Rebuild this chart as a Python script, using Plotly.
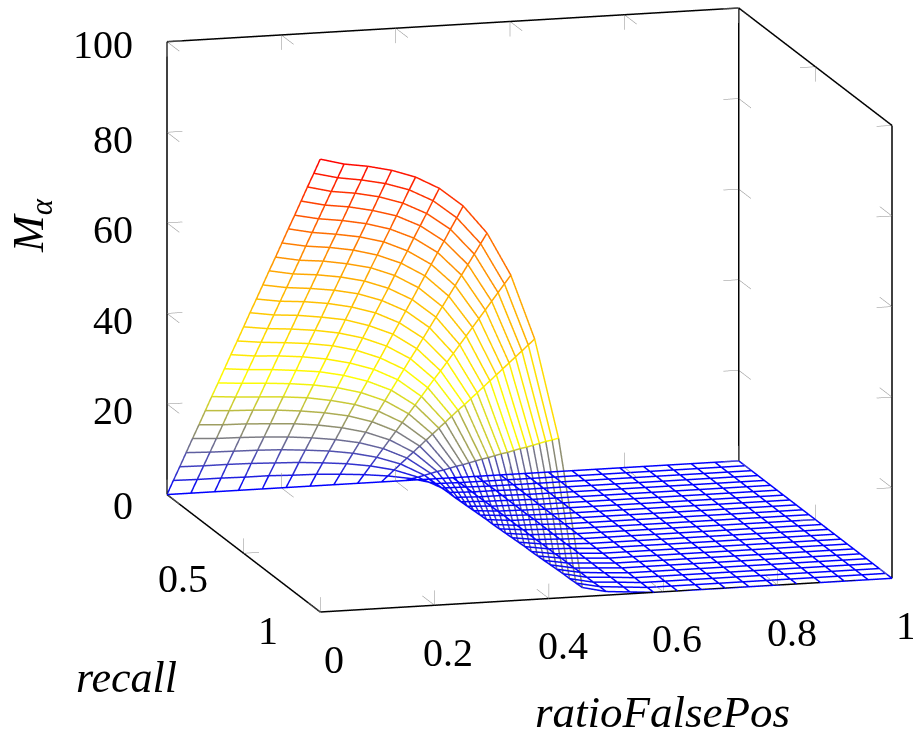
import plotly.graph_objects as go

ratio_false_pos = [0, 0.0417, 0.0833, 0.125, 0.1667, 0.2083, 0.25, 0.2917, 0.3333, 0.375, 0.4167, 0.4583, 0.5,
                   0.5417, 0.5833, 0.625, 0.6667, 0.7083, 0.75, 0.7917, 0.8333, 0.875, 0.9167, 0.9583, 1]
recall = [0, 0.0417, 0.0833, 0.125, 0.1667, 0.2083, 0.25, 0.2917, 0.3333, 0.375, 0.4167, 0.4583, 0.5,
          0.5417, 0.5833, 0.625, 0.6667, 0.7083, 0.75, 0.7917, 0.8333, 0.875, 0.9167, 0.9583, 1]
Z = [0]*11
M_alpha = [
 [0,0,0,0,0,0,0,0,0,0,0,0,0,0]+Z,
 [4.2,4.1,4.1,4.0,4.0,3.8,3.7,3.4,3.0,2.4,1.5,0.1,0,0]+Z,
 [8.3,8.2,8.2,8.1,7.9,7.7,7.3,6.8,6.0,4.8,2.9,0.2,0.1,0]+Z,
 [12.5,12.3,12.2,12.1,11.9,11.5,11.0,10.2,9.0,7.2,4.4,0.3,0.1,0.1]+Z,
 [16.7,16.4,16.3,16.1,15.8,15.3,14.6,13.6,12.0,9.6,5.9,0.3,0.1,0.1]+Z,
 [20.8,20.5,20.4,20.1,19.8,19.2,18.3,17.0,15.0,12.0,7.4,0.4,0.2,0.1]+Z,
 [25.0,24.7,24.5,24.2,23.7,23.0,22.0,20.4,18.0,14.4,8.8,0.5,0.2,0.1]+Z,
 [29.2,28.8,28.5,28.2,27.7,26.8,25.6,23.8,21.0,16.8,10.3,0.6,0.2,0.1]+Z,
 [33.3,32.9,32.6,32.2,31.6,30.7,29.3,27.2,24.0,19.2,11.8,0.7,0.3,0.1]+Z,
 [37.5,37.0,36.7,36.2,35.6,34.5,32.9,30.6,27.0,21.6,13.2,0.8,0.3,0.2]+Z,
 [41.7,41.1,40.8,40.3,39.5,38.3,36.6,34.0,30.0,24.0,14.7,0.8,0.3,0.2]+Z,
 [45.8,45.2,44.8,44.3,43.5,42.2,40.2,37.4,33.0,26.4,16.2,0.9,0.4,0.2]+Z,
 [50.0,49.3,48.9,48.3,47.4,46.0,43.9,40.8,36.0,28.8,17.7,1.0,0.4,0.2]+Z,
 [54.2,53.4,53.0,52.3,51.4,49.8,47.6,44.1,38.9,31.1,19.1,1.1,0.4,0.2]+Z,
 [58.3,57.5,57.1,56.4,55.3,53.7,51.2,47.5,41.9,33.5,20.6,1.2,0.5,0.2]+Z,
 [62.5,61.6,61.1,60.4,59.3,57.5,54.9,50.9,44.9,35.9,22.1,1.3,0.5,0.3]+Z,
 [66.7,65.7,65.2,64.4,63.2,61.3,58.5,54.3,47.9,38.3,23.5,1.3,0.5,0.3]+Z,
 [70.8,69.8,69.3,68.4,67.2,65.2,62.2,57.7,50.9,40.7,25.0,1.4,0.6,0.3]+Z,
 [75.0,74.0,73.4,72.5,71.1,69.0,65.9,61.1,53.9,43.1,26.5,1.5,0.6,0.3]+Z,
 [79.2,78.1,77.4,76.5,75.1,72.8,69.5,64.5,56.9,45.5,27.9,1.6,0.6,0.3]+Z,
 [83.3,82.2,81.5,80.5,79.0,76.7,73.2,67.9,59.9,47.9,29.4,1.7,0.7,0.3]+Z,
 [87.5,86.3,85.6,84.5,83.0,80.5,76.8,71.3,62.9,50.3,30.9,1.8,0.7,0.4]+Z,
 [91.7,90.4,89.7,88.6,86.9,84.3,80.5,74.7,65.9,52.7,32.4,1.8,0.7,0.4]+Z,
 [95.8,94.5,93.7,92.6,90.9,88.2,84.1,78.1,68.9,55.1,33.8,1.9,0.8,0.4]+Z,
 [100,98.6,97.8,96.6,94.8,92.0,87.8,81.5,71.9,57.5,35.3,2.0,0.8,0.4]+Z,
]
x_ticks = [0, 0.2, 0.4, 0.6, 0.8, 1]
x_tick_text = ["0", "0.2", "0.4", "0.6", "0.8", "1"]
y_ticks = [0, 0.5, 1]
y_tick_text = ["0", "0.5", "1"]
z_ticks = [0, 20, 40, 60, 80, 100]
z_tick_text = ["0", "20", "40", "60", "80", "100"]
hot = [[0, "rgb(0,0,255)"], [1/3, "rgb(255,255,0)"], [2/3, "rgb(255,165,0)"], [1, "rgb(255,0,0)"]]

xs, ys, zs, cs = [], [], [], []
def seg(x0, y0, z0, x1, y1, z1):
    c = (z0 + z1) / 2
    xs.extend([x0, x1, None]); ys.extend([y0, y1, None]); zs.extend([z0, z1, None]); cs.extend([c, c, c])
nx, ny = len(ratio_false_pos), len(recall)
for j in range(ny):
    for i in range(nx):
        if i + 1 < nx:
            seg(ratio_false_pos[i], recall[j], M_alpha[j][i], ratio_false_pos[i+1], recall[j], M_alpha[j][i+1])
        if j + 1 < ny:
            seg(ratio_false_pos[i], recall[j], M_alpha[j][i], ratio_false_pos[i], recall[j+1], M_alpha[j+1][i])

X0, X1, Y0, Y1, Z0, Z1 = 0, 1, 0, 1, 0, 100
bx, by, bz = [], [], []
edges = [((X0,Y0,Z0),(X0,Y0,Z1)), ((X0,Y0,Z1),(X1,Y0,Z1)), ((X1,Y0,Z1),(X1,Y0,Z0)), ((X1,Y0,Z1),(X1,Y1,Z1)),
         ((X1,Y1,Z1),(X1,Y1,Z0)), ((X0,Y0,Z0),(X0,Y1,Z0)), ((X0,Y1,Z0),(X1,Y1,Z0))]
for a, b in edges:
    bx.extend([a[0], b[0], None]); by.extend([a[1], b[1], None]); bz.extend([a[2], b[2], None])

tx, ty, tz = [], [], []
LX, LY, LZ = 0.027, 0.08, 3.3
def tick(p, d):
    tx.extend([p[0], p[0]+d[0], None]); ty.extend([p[1], p[1]+d[1], None]); tz.extend([p[2], p[2]+d[2], None])
for v in z_ticks:
    tick((X0,Y0,v), (LX,0,0)); tick((X0,Y0,v), (0,LY,0))
    tick((X1,Y0,v), (-LX,0,0)); tick((X1,Y0,v), (0,LY,0))
    tick((X1,Y1,v), (-LX,0,0)); tick((X1,Y1,v), (0,-LY,0))
for v in x_ticks:
    tick((v,Y0,Z0), (0,0,LZ)); tick((v,Y0,Z0), (0,LY,0))
    tick((v,Y1,Z0), (0,0,LZ)); tick((v,Y1,Z0), (0,-LY,0))
    tick((v,Y0,Z1), (0,0,-LZ)); tick((v,Y0,Z1), (0,LY,0))
for v in y_ticks:
    tick((X0,v,Z0), (0,0,LZ)); tick((X0,v,Z0), (LX,0,0))
    tick((X1,v,Z1), (0,0,-LZ)); tick((X1,v,Z1), (-LX,0,0))
    tick((X1,v,Z0), (0,0,LZ)); tick((X1,v,Z0), (-LX,0,0))

fig = go.Figure()
fig.add_trace(go.Scatter3d(x=tx, y=ty, z=tz, mode="lines", line=dict(color="rgb(140,140,140)", width=1), hoverinfo="skip"))
fig.add_trace(go.Scatter3d(x=bx, y=by, z=bz, mode="lines", line=dict(color="black", width=3), hoverinfo="skip"))
fig.add_trace(go.Scatter3d(x=xs, y=ys, z=zs, mode="lines",
                           line=dict(color=cs, colorscale=hot, cmin=0, cmax=100, width=3), hoverinfo="skip"))

FS = 40
font = dict(family="Liberation Serif", size=FS, color="black")
ann = []
z_label_dy = [-11, -6, -7, -7, -7, -3]
for v, t, dy in zip(z_ticks, z_tick_text, z_label_dy):
    ann.append(dict(x=X0, y=Y0, z=v, text=t, showarrow=False, xanchor="right", yanchor="middle", xshift=-32, yshift=dy, font=font))
for v, t in zip(x_ticks, x_tick_text):
    ann.append(dict(x=v, y=Y1, z=Z0, text=t, showarrow=False, xanchor="center", yanchor="middle", xshift=14, yshift=-47, font=font))
for v, t, dx, dy in zip(y_ticks[1:], y_tick_text[1:], [-60, -52], [-25, -18]):
    ann.append(dict(x=X0, y=v, z=Z0, text=t, showarrow=False, xanchor="center", yanchor="middle", xshift=dx, yshift=dy, font=font))
axis = dict(showgrid=False, showline=False, zeroline=False, showticklabels=False, showbackground=False,
            showspikes=False, ticks="", title=dict(text=""))
E = 2.0
fig.update_layout(
    width=913, height=731, margin=dict(l=0, r=0, t=0, b=0), paper_bgcolor="white", showlegend=False,
    scene=dict(
        domain=dict(x=[0.1595, 1], y=[0.1518, 1]),
        xaxis=dict(range=[X0, X1], **axis), yaxis=dict(range=[Y0, Y1], **axis), zaxis=dict(range=[Z0, Z1], **axis),
        aspectmode="manual", aspectratio=dict(x=1.914, y=1.85, z=1.495),
        camera=dict(projection=dict(type="orthographic"), up=dict(x=0, y=0, z=1), center=dict(x=0, y=0, z=0),
                    eye=dict(x=0.2611*E, y=-0.9416*E, z=-0.2125*E)),
        annotations=ann,
    ),
    annotations=[
        dict(xref="paper", yref="paper", x=126/913, y=1-677/731, xanchor="center", yanchor="middle", text="<i>recall</i>",
             showarrow=False, font=dict(family="Liberation Serif", size=44, color="black")),
        dict(xref="paper", yref="paper", x=662/913, y=1-712/731, xanchor="center", yanchor="middle", text="<i>ratioFalsePos</i>",
             showarrow=False, font=dict(family="Liberation Serif", size=45, color="black")),
        dict(xref="paper", yref="paper", x=31/913, y=1-226/731, xanchor="center", yanchor="middle", text="<i>M</i><sub><i>α</i></sub>",
             textangle=-90, showarrow=False, font=dict(family="Liberation Serif", size=44, color="black")),
    ],
)
fig.write_html("out.html", config=dict(displayModeBar=False), post_script="document.body.style.margin='0';document.documentElement.style.overflow='hidden';")
